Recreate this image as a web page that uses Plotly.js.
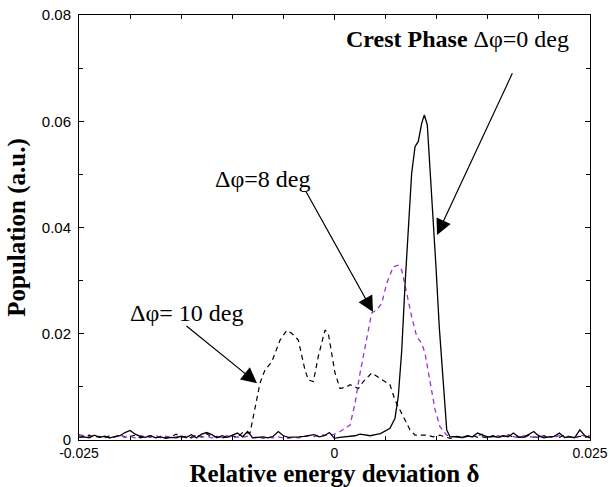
<!DOCTYPE html>
<html>
<head>
<meta charset="utf-8">
<script src="https://cdn.plot.ly/plotly-3.0.1.min.js"></script>
<style>html,body{margin:0;padding:0;background:#fff}#chart{width:610px;height:487px}</style>
</head>
<body>
<div id="chart"></div>
<script>
// Baseline delta grid (relative energy deviation)
const deltaGrid = [
 -0.0250,-0.0245,-0.0240,-0.0235,-0.0230,-0.0225,-0.0220,-0.0215,-0.0210,-0.0205,
 -0.0200,-0.0195,-0.0190,-0.0185,-0.0180,-0.0175,-0.0170,-0.0165,-0.0160,-0.0155,
 -0.0150,-0.0145,-0.0140,-0.0135,-0.0130,-0.0125,-0.0120,-0.0115,-0.0110,-0.0105,
 -0.0100,-0.0095,-0.0090,-0.0085,-0.0080,-0.0075,-0.0070,-0.0065,-0.0060,-0.0055,
 -0.0050,-0.0045,-0.0040,-0.0035,-0.0030,-0.0025,-0.0020,-0.0015,-0.0010,-0.0005,
  0.0000, 0.0005, 0.0010, 0.0015, 0.0020, 0.0025, 0.0030, 0.0035, 0.0040, 0.0045,
  0.0050, 0.0055, 0.0060, 0.0065, 0.0070, 0.0075, 0.0080, 0.0085, 0.0090, 0.0095,
  0.0100, 0.0105, 0.0110, 0.0115, 0.0120, 0.0125, 0.0130, 0.0135, 0.0140, 0.0145,
  0.0150, 0.0155, 0.0160, 0.0165, 0.0170, 0.0175, 0.0180, 0.0185, 0.0190, 0.0195,
  0.0200, 0.0205, 0.0210, 0.0215, 0.0220, 0.0225, 0.0230, 0.0235, 0.0240, 0.0245,
  0.0250
];

// ---- Δφ = 10 deg (black dashed) ----
const pop10Low = [   // delta -0.025 ... -0.009
 0.0008,0.0006,0.0009,0.0005,0.0007,0.0004,0.0008,0.0006,0.0010,0.0005,
 0.0007,0.0009,0.0004,0.0006,0.0008,0.0005,0.0007,0.0004,0.0006,0.0011,
 0.0005,0.0007,0.0004,0.0009,0.0006,0.0012,0.0005,0.0007,0.0004,0.0006,
 0.0008,0.0005,0.0014
];
const delta10Peak = [-0.00827,-0.00729,-0.00680,-0.00614,-0.00533,-0.00468,-0.00419,-0.00354,
 -0.00289,-0.00256,-0.00207,-0.00159,-0.00093,-0.00061,0.00005,0.00054,0.00119,0.00152,
 0.00233,0.00282,0.00364,0.00478,0.00543,0.00592,0.00658,0.00739,0.00788,0.00902,
 0.00967,0.01032,0.01130];
const pop10Peak = [0.0013,0.0107,0.0132,0.0147,0.0188,0.0206,0.0201,0.0188,
 0.0132,0.0113,0.0110,0.0157,0.0207,0.0201,0.0126,0.0097,0.0100,0.0104,
 0.0097,0.0110,0.0126,0.0113,0.0104,0.0075,0.0050,0.0019,0.0009,0.0009,
 0.0006,0.0009,0.0003];
const pop10High = [  // delta 0.012 ... 0.025
 0.0006,0.0004,0.0007,0.0009,0.0005,0.0006,0.0004,0.0008,0.0005,0.0007,
 0.0010,0.0005,0.0006,0.0004,0.0009,0.0006,0.0005,0.0008,0.0004,0.0007,
 0.0005,0.0009,0.0006,0.0004,0.0007,0.0005,0.0008
];

// ---- Δφ = 8 deg (purple dashed) ----
const pop8Low = [    // delta -0.025 ... -0.0015
 0.0010,0.0008,0.0006,0.0009,0.0005,0.0007,0.0004,0.0006,0.0009,0.0005,
 0.0007,0.0004,0.0008,0.0006,0.0005,0.0009,0.0004,0.0007,0.0005,0.0006,
 0.0008,0.0004,0.0006,0.0009,0.0005,0.0007,0.0004,0.0006,0.0005,0.0008,
 0.0004,0.0006,0.0005,0.0007,0.0004,0.0006,0.0003,0.0005,0.0004,0.0006,
 0.0004,0.0003,0.0005,0.0004,0.0006,0.0008,0.0006,0.0010
];
const delta8Peak = [-0.0010,-0.0005,0.0000,0.00054,0.00152,0.00201,0.00250,0.00299,0.00364,
 0.00413,0.00462,0.00511,0.00575,0.00624,0.00658,0.00707,0.00755,0.00804,0.00853,
 0.00886,0.00935,0.00984,0.01032,0.01098,0.01162,0.0120];
const pop8Peak = [0.0009,0.0009,0.0011,0.0016,0.0028,0.0069,0.0126,0.0176,0.0239,
 0.0245,0.0257,0.0295,0.0326,0.0329,0.0320,0.0276,0.0232,0.0195,0.0182,
 0.0163,0.0107,0.0057,0.0025,0.0009,0.0006,0.0005];
const pop8High = [   // delta 0.0125 ... 0.025
 0.0004,0.0007,0.0006,0.0008,0.0011,0.0006,0.0005,0.0008,0.0005,0.0009,
 0.0006,0.0004,0.0008,0.0006,0.0005,0.0009,0.0004,0.0006,0.0005,0.0008,
 0.0004,0.0007,0.0005,0.0009,0.0007,0.0006
];

// ---- Crest phase Δφ = 0 deg (black solid) ----
const pop0Low = [    // delta -0.025 ... 0.0045
 0.0005,0.0006,0.0004,0.0009,0.0005,0.0007,0.0004,0.0006,0.0008,0.0014,
 0.0018,0.0011,0.0007,0.0005,0.0008,0.0004,0.0006,0.0003,0.0005,0.0004,
 0.0007,0.0005,0.0010,0.0004,0.0011,0.0014,0.0010,0.0004,0.0008,0.0005,
 0.0009,0.0013,0.0006,0.0016,0.0004,0.0005,0.0006,0.0004,0.0007,0.0016,
 0.0008,0.0005,0.0005,0.0006,0.0007,0.0008,0.0010,0.0006,0.0008,0.0014,
 0.0003,0.0005,0.0006,0.0007,0.0008,0.0011,0.0009,0.0008,0.0010,0.0012
];
const delta0Peak = [0.00543,0.00592,0.00624,0.00658,0.00690,0.00722,0.00755,0.00788,0.00820,
 0.00853,0.00879,0.00908,0.00934,0.00961,0.00993,0.01025,0.01065,0.01098,0.01130];
const pop0Peak = [0.0022,0.0041,0.0082,0.0169,0.0292,0.0395,0.0502,0.0552,0.0562,
 0.0596,0.0612,0.0593,0.0521,0.0427,0.0326,0.0213,0.0107,0.0019,0.0006];
const pop0High = [   // delta 0.012 ... 0.025
 0.0007,0.0005,0.0008,0.0006,0.0013,0.0009,0.0006,0.0007,0.0005,0.0008,
 0.0006,0.0013,0.0006,0.0005,0.0010,0.0016,0.0007,0.0004,0.0006,0.0007,
 0.0013,0.0005,0.0006,0.0004,0.0019,0.0008,0.0004
];

const xTickVals = [-0.025, 0, 0.025];
const xTickText = ['-0.025', '0', '0.025'];
const yTickVals = [0, 0.02, 0.04, 0.06, 0.08];
const yTickText = ['0', '0.02', '0.04', '0.06', '0.08'];

const labelCrest = '<b>Crest Phase</b> Δφ=0 deg';
const label8 = 'Δφ=8 deg';
const label10 = 'Δφ= 10 deg';

const delta10 = deltaGrid.slice(0, 33).concat(delta10Peak, deltaGrid.slice(74));
const pop10 = pop10Low.concat(pop10Peak, pop10High);
const delta8 = deltaGrid.slice(0, 48).concat(delta8Peak, deltaGrid.slice(75));
const pop8 = pop8Low.concat(pop8Peak, pop8High);
const delta0 = deltaGrid.slice(0, 60).concat(delta0Peak, deltaGrid.slice(74));
const pop0 = pop0Low.concat(pop0Peak, pop0High);

const traces = [
  {x: delta10, y: pop10, type: 'scatter', mode: 'lines',
   line: {color: '#000000', width: 1.2, dash: '5px,4px'}, hoverinfo: 'skip'},
  {x: delta8, y: pop8, type: 'scatter', mode: 'lines',
   line: {color: '#9b30d9', width: 1.3, dash: '5px,4px'}, hoverinfo: 'skip'},
  {x: delta0, y: pop0, type: 'scatter', mode: 'lines',
   line: {color: '#000000', width: 1.3}, hoverinfo: 'skip'}
];

const serif = 'Liberation Serif, Times New Roman, serif';
const sans = 'Liberation Sans, Arial, sans-serif';

function arrow(x, y, ax, ay) {
  return {x: x, y: y, ax: ax, ay: ay, xref: 'x', yref: 'y', axref: 'x', ayref: 'y',
          text: '', showarrow: true, arrowhead: 2, arrowsize: 2.6, arrowwidth: 1.2,
          arrowcolor: '#000000', standoff: 0, startstandoff: 0};
}
function label(x, y, text) {
  return {x: x, y: y, xref: 'x', yref: 'y', text: text, showarrow: false,
          xanchor: 'center', yanchor: 'middle',
          font: {family: serif, size: 24, color: '#000000'}};
}

const layout = {
  width: 610, height: 487,
  margin: {l: 79, r: 20, t: 15, b: 47},
  paper_bgcolor: '#ffffff', plot_bgcolor: '#ffffff',
  showlegend: false,
  xaxis: {
    range: [-0.025, 0.025], tickvals: xTickVals, ticktext: xTickText,
    ticks: 'inside', ticklen: 5, tickcolor: '#000', tickwidth: 1,
    minor: {dtick: 0.005, tick0: 0, ticks: 'inside', ticklen: 4, tickcolor: '#000', showgrid: false},
    showline: true, linecolor: '#000', linewidth: 1, mirror: 'ticks',
    showgrid: false, zeroline: false, ticklabeloverflow: 'allow',
    tickfont: {family: sans, size: 14, color: '#000'},
    title: {text: '<b>Relative energy deviation δ</b>', font: {family: serif, size: 25, color: '#000'}, standoff: 3}
  },
  yaxis: {
    range: [0, 0.08], tickvals: yTickVals, ticktext: yTickText,
    ticks: 'inside', ticklen: 5, tickcolor: '#000', tickwidth: 1,
    minor: {dtick: 0.01, tick0: 0, ticks: 'inside', ticklen: 4, tickcolor: '#000', showgrid: false},
    showline: true, linecolor: '#000', linewidth: 1, mirror: 'ticks',
    showgrid: false, zeroline: false, ticklabelstandoff: 4,
    tickfont: {family: sans, size: 15, color: '#000'},
    title: {text: '<b>Population (a.u.)</b>', font: {family: serif, size: 25, color: '#000'}, standoff: 9}
  },
  annotations: [
    label(0.01199, 0.0754, labelCrest),
    arrow(0.01003, 0.0386, 0.01747, 0.0693),
    label(-0.00709, 0.0491, label8),
    arrow(0.00377, 0.0241, -0.00289, 0.0471),
    label(-0.01453, 0.0239, label10),
    arrow(-0.00758, 0.0107, -0.01463, 0.0217)
  ]
};

Plotly.newPlot('chart', traces, layout, {displayModeBar: false, staticPlot: true});
</script>
</body>
</html>
